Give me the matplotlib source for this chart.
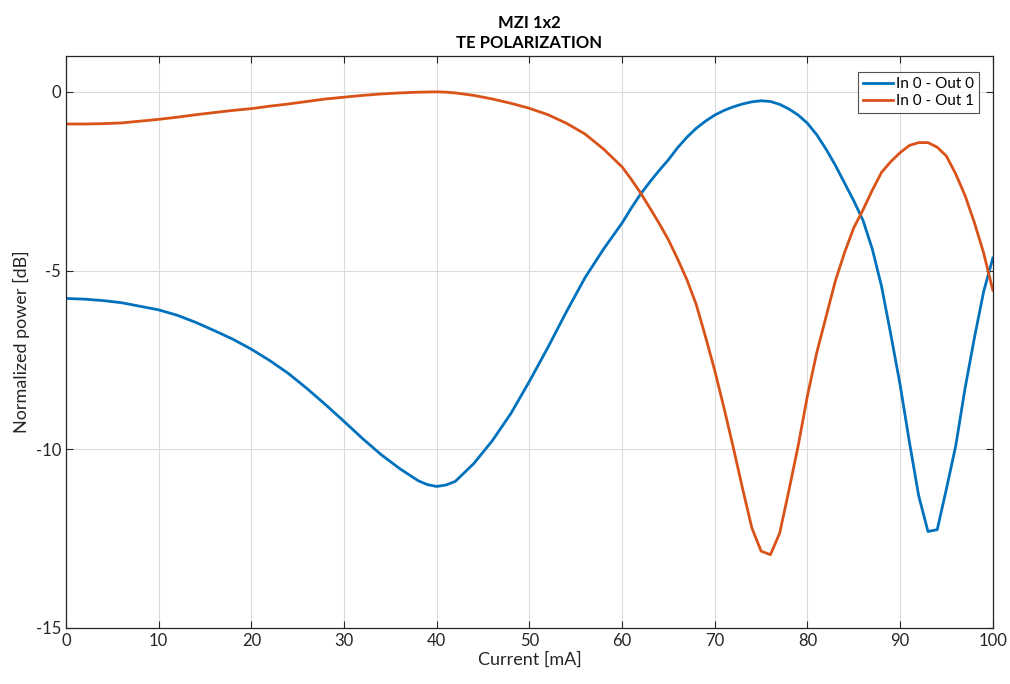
#!/usr/bin/env python3
# -*- coding: utf-8 -*-
"""MZI 1x2 transfer curves versus heater current (TE polarization)."""

import matplotlib
matplotlib.use("Agg")
from matplotlib import pyplot as plt

current = [0, 2, 4, 6, 8, 10, 12, 14, 16, 18, 20, 22, 24, 26, 28, 30,
           32, 34, 36, 38, 39, 40, 41, 42, 44, 46, 48, 50, 52, 54, 56, 58,
           60, 61, 62, 63, 64, 65, 66, 67, 68, 69, 70, 71, 72, 73, 74, 75,
           76, 77, 78, 79, 80, 81, 82, 83, 84, 85, 86, 87, 88, 89, 90,
           91, 92, 93, 94, 95, 96, 97, 98, 99, 100]

out0 = [-5.78, -5.80, -5.84, -5.90, -6.0, -6.1, -6.25, -6.45, -6.68, -6.92,
        -7.2, -7.52, -7.88, -8.3, -8.75, -9.22, -9.7, -10.15, -10.54, -10.88,
        -10.99, -11.04, -11.0, -10.9, -10.4, -9.76, -9.0, -8.1, -7.15, -6.15,
        -5.2, -4.4, -3.67, -3.25, -2.86, -2.52, -2.2, -1.9, -1.56, -1.27,
        -1.02, -0.82, -0.65, -0.52, -0.42, -0.34, -0.28, -0.25, -0.27, -0.35,
        -0.48, -0.65, -0.88, -1.2, -1.6, -2.05, -2.55, -3.05, -3.6, -4.4,
        -5.45, -6.8, -8.2, -9.8, -11.3, -12.3, -12.25, -11.1, -9.9, -8.3,
        -6.9, -5.6, -4.65]

out1 = [-0.9, -0.9, -0.89, -0.87, -0.82, -0.77, -0.71, -0.64, -0.58, -0.52,
        -0.47, -0.4, -0.34, -0.27, -0.2, -0.15, -0.1, -0.06, -0.03, -0.01,
        -0.005, 0.0, -0.01, -0.03, -0.1, -0.2, -0.32, -0.46, -0.64, -0.88,
        -1.18, -1.6, -2.1, -2.45, -2.83, -3.25, -3.68, -4.14, -4.68, -5.26,
        -5.95, -6.85, -7.8, -8.85, -9.95, -11.1, -12.2, -12.85, -12.95, -12.35,
        -11.15, -9.9, -8.5, -7.3, -6.3, -5.3, -4.5, -3.8, -3.3, -2.75,
        -2.25, -1.95, -1.7, -1.5, -1.42, -1.42, -1.55, -1.8, -2.3, -2.9,
        -3.65, -4.5, -5.55]

labels = ["In 0 - Out 0", "In 0 - Out 1"]


def main():
    """ Main function of the program. """
    plt.rcParams['font.family'] = ['Lato', 'DejaVu Sans']
    plt.rcParams['axes.unicode_minus'] = False
    fig = plt.figure(figsize=(10.10, 6.84), dpi=100)
    ax = fig.add_axes([0.0653, 0.0819, 0.9177, 0.8361])

    ax.plot(current, out0, color='#0072BD', lw=2.0, label=labels[0])
    ax.plot(current, out1, color='#D95319', lw=2.0, label=labels[1])

    ax.set_xlim(0, 100)
    ax.set_ylim(-15, 1)
    ax.set_xticks(range(0, 101, 10))
    ax.set_yticks([-15, -10, -5, 0])
    ax.grid(True, color='#dcdcdc', lw=0.8)
    ax.set_axisbelow(True)
    ax.tick_params(direction='in', top=True, right=True, length=5,
                   labelsize=12, colors='#262626')
    for sp in ax.spines.values():
        sp.set_color('#262626')
        sp.set_linewidth(0.9)

    ax.set_xlabel('Current [mA]', fontsize=13, color='#262626', labelpad=2)
    ax.set_ylabel('Normalized power [dB]', fontsize=13, color='#262626',
                  labelpad=4)
    ax.set_title('MZI 1x2\nTE POLARIZATION', fontsize=12, fontweight='bold',
                 linespacing=1.3, pad=6)

    leg = ax.legend(loc='upper right', fontsize=11, frameon=True,
                    fancybox=False, handlelength=2.0, handletextpad=0.2,
                    borderpad=0.3, labelspacing=0.2,
                    bbox_to_anchor=(0.993, 0.985))
    leg.get_frame().set_edgecolor('#262626')
    leg.get_frame().set_linewidth(0.8)

    fig.savefig('out.png')


if __name__ == "__main__":
    main()
